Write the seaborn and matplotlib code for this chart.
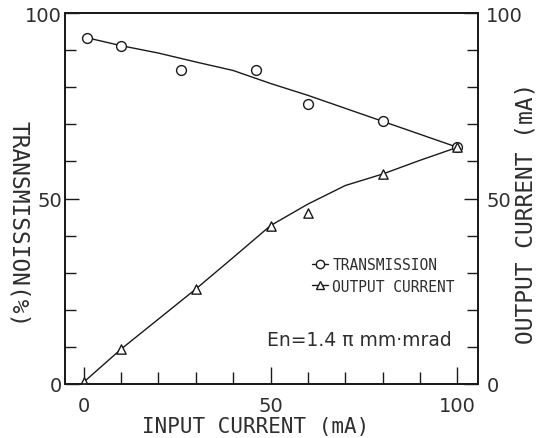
import numpy as np
import pandas as pd
import matplotlib
matplotlib.use('Agg')
import matplotlib.pyplot as plt
import seaborn as sns
from matplotlib.ticker import MultipleLocator
from matplotlib.lines import Line2D

trans_x = [1, 10, 26, 46, 60, 80, 100]
transmission = [93.3, 91.2, 84.7, 84.6, 75.5, 70.8, 63.8]
out_x = [0, 10, 30, 50, 60, 80, 100]
output_current = [0.5, 9.4, 25.6, 42.7, 46.1, 56.6, 63.8]

# hand-drawn smooth curves
trans_curve_x = [1, 10, 20, 30, 40, 50, 60, 70, 80, 90, 100]
trans_curve = [93.3, 91.2, 89.2, 86.8, 84.5, 81.0, 77.8, 74.3, 70.8, 67.3, 63.8]
out_curve_x = [0, 10, 20, 30, 40, 50, 60, 70, 80, 90, 100]
out_curve = [0.5, 9.4, 17.5, 25.6, 34.1, 42.7, 48.5, 53.5, 56.6, 60.3, 63.8]

sns.set_style('ticks')
plt.rcParams['font.family'] = ['DejaVu Sans']
MONO = 'DejaVu Sans Mono'
INK = '#1a1a1a'
TXT = '#2e2e2e'

fig = plt.figure(figsize=(5.41, 4.39), dpi=100)
ax = fig.add_axes([65 / 541, 1 - 385 / 439, 413 / 541, 371 / 439])

sns.lineplot(x=trans_curve_x, y=trans_curve, ax=ax, color=INK, lw=1.0)
sns.lineplot(x=out_curve_x, y=out_curve, ax=ax, color=INK, lw=1.0)
sns.scatterplot(x=trans_x, y=transmission, ax=ax, marker='o', s=50,
                color='white', edgecolor=INK, linewidth=1.0, zorder=3)
sns.scatterplot(x=out_x, y=output_current, ax=ax, marker='^', s=45,
                color='white', edgecolor=INK, linewidth=1.0, zorder=3)

ax.set_xlim(-5, 105.5)
ax.set_ylim(0, 100)
ax2 = ax.twinx()
ax2.set_ylim(0, 100)

for a in (ax, ax2):
    for s in a.spines.values():
        s.set_linewidth(1.3)
        s.set_color(INK)

ax.set_xticks([0, 50, 100])
ax.set_yticks([0, 50, 100])
ax2.set_yticks([0, 50, 100])
ax.xaxis.set_minor_locator(MultipleLocator(10))
ax.yaxis.set_minor_locator(MultipleLocator(10))
ax2.yaxis.set_minor_locator(MultipleLocator(10))

ax.tick_params(axis='x', which='both', direction='in', top=False, color=INK,
               labelcolor=TXT, labelsize=14, pad=9, width=1.0)
ax.tick_params(axis='x', which='major', length=12)
ax.tick_params(axis='x', which='minor', length=9)
ax.tick_params(axis='y', which='both', direction='in', right=False, color=INK,
               labelcolor=TXT, labelsize=14, pad=2, width=1.0)
ax.tick_params(axis='y', which='major', length=10)
ax.tick_params(axis='y', which='minor', length=8)
ax2.tick_params(axis='y', which='both', direction='in', color=INK,
                labelcolor=TXT, labelsize=14, pad=6, width=1.0)
ax2.tick_params(axis='y', which='major', length=10)
ax2.tick_params(axis='y', which='minor', length=8)

ax.set_xlabel('INPUT CURRENT (mA)', family=MONO, fontsize=15, color=TXT, va='center')
ax.xaxis.set_label_coords((256 - 65) / 413, (385 - 427) / 371)
ax.set_ylabel('TRANSMISSION(%)', family=MONO, fontsize=16.5, color=TXT,
              rotation=-90, va='center')
ax.yaxis.set_label_coords((18 - 65) / 413, (385 - 224) / 371)
ax2.set_ylabel('OUTPUT CURRENT (mA)', family=MONO, fontsize=16.5, color=TXT,
               rotation=90, va='center')
ax2.yaxis.set_label_coords((526 - 65) / 413, (385 - 213) / 371)

handles = [
    Line2D([], [], color=INK, lw=1.0, marker='o', markersize=6,
           markerfacecolor='white', markeredgecolor=INK),
    Line2D([], [], color=INK, lw=1.0, marker='^', markersize=6,
           markerfacecolor='white', markeredgecolor=INK),
]
leg = ax.legend(handles, ['TRANSMISSION', 'OUTPUT CURRENT'], loc='upper left',
                bbox_to_anchor=((312 - 65) / 413, (385 - 258) / 371), frameon=False,
                handlelength=1.1, handletextpad=0.3, labelspacing=0.45, borderpad=0,
                borderaxespad=0, prop={'family': MONO, 'size': 10.5})
for t in leg.get_texts():
    t.set_color(TXT)

ax.text((267 - 65) / 413, (385 - 340) / 371, 'En=1.4 \u03c0 mm\u00b7mrad',
        transform=ax.transAxes, fontsize=13.5, color=TXT, va='center', ha='left')

fig.savefig('out.png', dpi=100)
